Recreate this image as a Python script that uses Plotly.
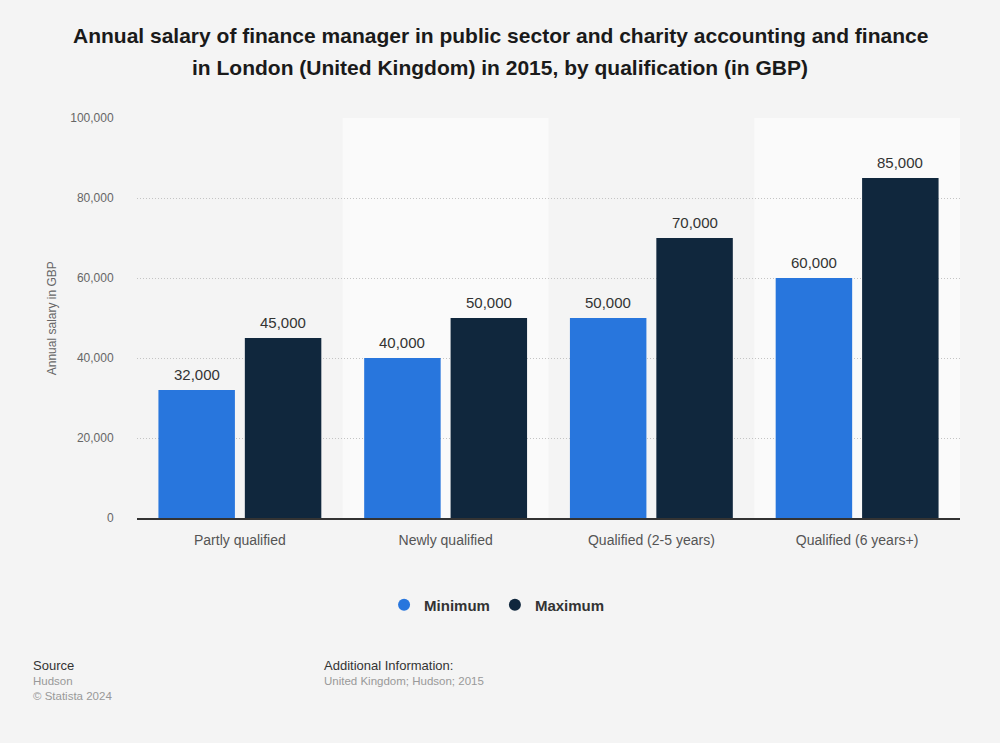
import plotly.graph_objects as go

categories = ["Partly qualified", "Newly qualified", "Qualified (2-5 years)", "Qualified (6 years+)"]
minimum = [32000, 40000, 50000, 60000]
maximum = [45000, 50000, 70000, 85000]
y_ticks = [0, 20000, 40000, 60000, 80000, 100000]
title_lines = [
    "Annual salary of finance manager in public sector and charity accounting and finance",
    "in London (United Kingdom) in 2015, by qualification (in GBP)",
]

BLUE = "#2876dd"
NAVY = "#10273d"
FONT = "Liberation Sans, Arial, sans-serif"
BARGAP = 0.16
BARGROUPGAP = 0.115

fig = go.Figure()
series = [("Minimum", minimum, BLUE), ("Maximum", maximum, NAVY)]
for name, vals, col in series:
    fig.add_trace(go.Bar(
        x=categories, y=vals, name=name, marker=dict(color=col, line=dict(width=0)),
        showlegend=False, hoverinfo="x+y",
    ))
    fig.add_trace(go.Scatter(
        x=[None], y=[None], mode="markers", name=name,
        marker=dict(symbol="circle", size=17, color=col), showlegend=True,
    ))

# value labels above bars (positioned at the grouped-bar slot centres)
slot = (1 - BARGAP) / 2
annotations = []
for k, (name, vals, col) in enumerate(series):
    off = (k - 0.5) * slot
    for i, v in enumerate(vals):
        annotations.append(dict(
            x=i + off, y=v, xref="x", yref="y", text=f"{v:,}", showarrow=False,
            xanchor="center", yanchor="bottom", yshift=5,
            font=dict(size=15, color="#333333", family=FONT)))

# alternating column shading
for i in (1, 3):
    fig.add_shape(type="rect", xref="x", yref="y", x0=i - 0.5, x1=i + 0.5, y0=0, y1=100000,
                  fillcolor="#fafafa", line=dict(width=0), layer="below")

# title as two lines (custom line spacing)
for line, ypos in zip(title_lines, (1.2075, 1.1275)):
    annotations.append(dict(
        text=f"<b>{line}</b>", xref="paper", yref="paper", x=(500 - 137) / 823, y=ypos,
        xanchor="center", yanchor="middle", showarrow=False,
        font=dict(size=21, color="#1a1a1a", family=FONT)))

annotations += [
    dict(text="Annual salary in GBP", xref="paper", yref="paper", x=-0.103, y=0.5,
         textangle=-90, showarrow=False, xanchor="center", yanchor="middle",
         font=dict(size=12, color="#666666", family=FONT)),
    dict(text="Source", xref="paper", yref="paper", x=-0.1288, y=-0.3675, xanchor="left",
         yanchor="middle", showarrow=False, font=dict(size=13, color="#333333", family=FONT)),
    dict(text="Hudson<br>© Statista 2024", xref="paper", yref="paper", x=-0.1288, y=-0.3875,
         xanchor="left", yanchor="top", align="left", showarrow=False,
         font=dict(size=11.5, color="#999999", family=FONT)),
    dict(text="Additional Information:", xref="paper", yref="paper", x=0.2248, y=-0.3675,
         xanchor="left", yanchor="middle", showarrow=False,
         font=dict(size=13, color="#333333", family=FONT)),
    dict(text="United Kingdom; Hudson; 2015", xref="paper", yref="paper", x=0.2248, y=-0.3875,
         xanchor="left", yanchor="top", align="left", showarrow=False,
         font=dict(size=11.5, color="#999999", family=FONT)),
]

fig.update_layout(
    width=1000, height=743, autosize=False,
    paper_bgcolor="#f4f4f4", plot_bgcolor="#f4f4f4",
    margin=dict(l=137, r=40, t=118, b=225, autoexpand=False),
    font=dict(family=FONT),
    barmode="group", bargap=BARGAP, bargroupgap=BARGROUPGAP,
    legend=dict(orientation="h", x=0.4375, xanchor="center",
                y=-0.2175, yanchor="middle",
                font=dict(size=15, color="#333333", family=FONT, weight="bold"),
                bgcolor="rgba(0,0,0,0)", itemsizing="constant"),
    xaxis=dict(
        type="category", showgrid=False, showline=True, linecolor="#333333", linewidth=1.5,
        ticks="outside", ticklen=8, tickcolor="rgba(0,0,0,0)", tickangle=0,
        tickfont=dict(size=14, color="#555555", family=FONT), range=[-0.5, 3.5],
    ),
    yaxis=dict(
        range=[0, 100000], tickvals=y_ticks, tickformat=",",
        showgrid=True, gridcolor="#c4c4c4", griddash="1px,2px", gridwidth=1,
        zeroline=False, ticks="outside", ticklen=20, tickcolor="rgba(0,0,0,0)",
        tickfont=dict(size=12, color="#666666", family=FONT),
    ),
    annotations=annotations,
)

fig.write_html("out.html", config={"displayModeBar": False},
               post_script="document.body.style.margin='0';")
